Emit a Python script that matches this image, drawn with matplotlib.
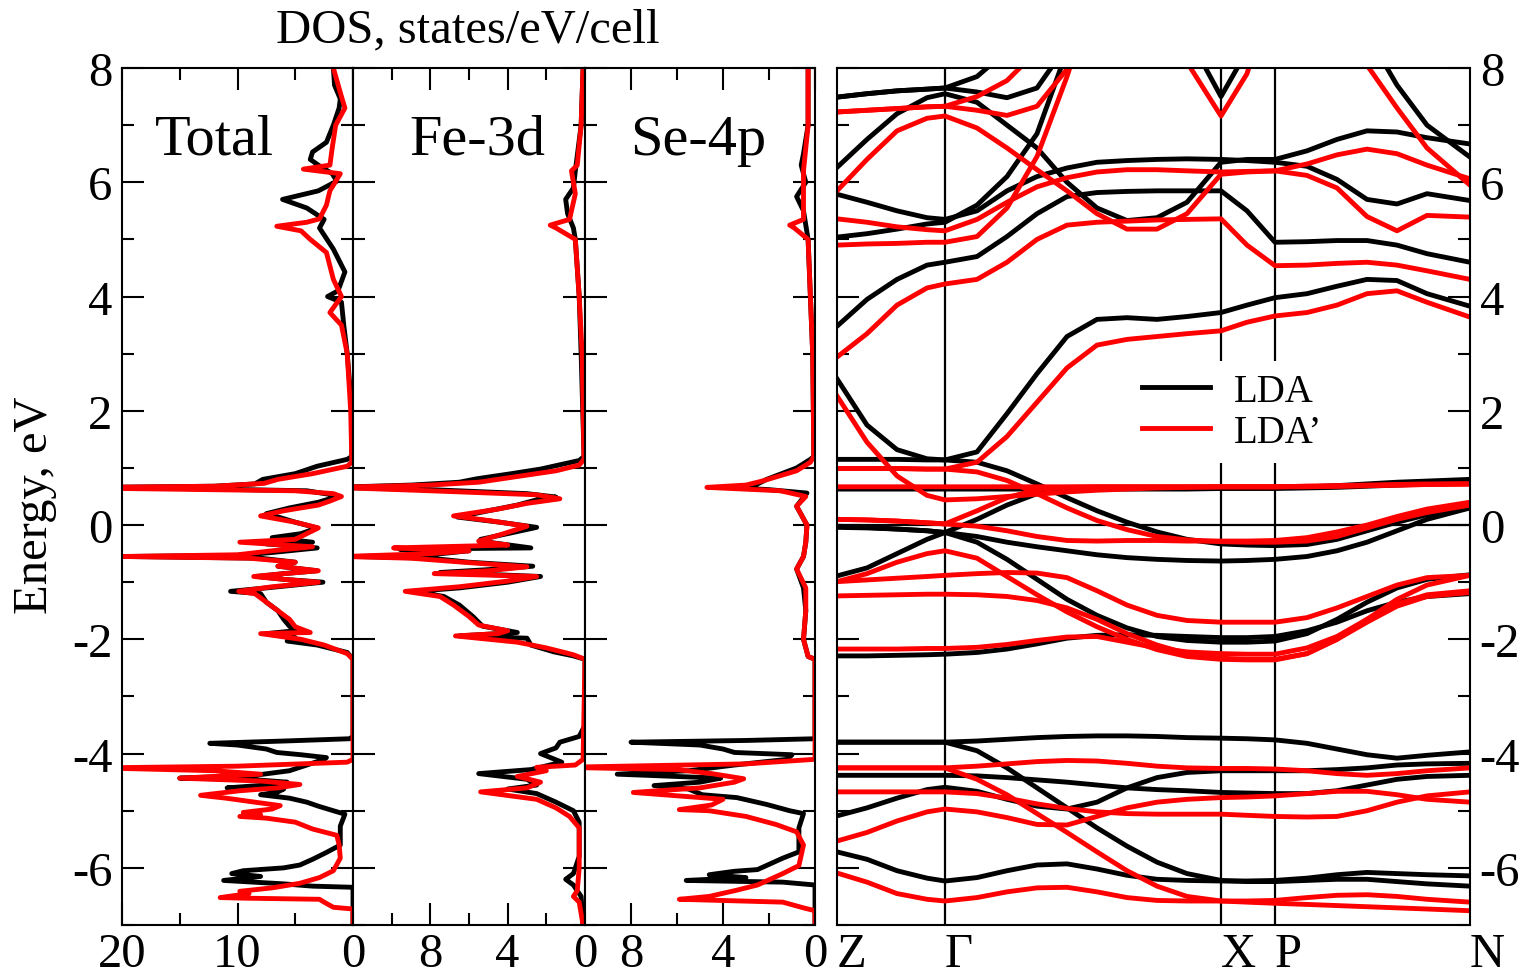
import matplotlib
matplotlib.use("Agg")
import matplotlib.pyplot as plt
from matplotlib.ticker import MultipleLocator

plt.rcParams['font.family'] = ['Liberation Serif', 'DejaVu Serif']
plt.rcParams['axes.unicode_minus'] = False

# ---------------- DOS data: (energy eV, states/eV/cell) ----------------
total_lda = [(-7.0, 0), (-6.34, 0), (-6.32, 3.5), (-6.28, 6), (-6.22, 11.2), (-6.15, 8), (-6.1, 10.5),
             (-6.05, 9.5), (-6.0, 6), (-5.95, 4.6), (-5.85, 3.5), (-5.73, 2.3), (-5.6, 1.1), (-5.27, 1.1),
             (-5.06, 0.7), (-5.0, 1.7), (-4.92, 3.0), (-4.85, 4.0), (-4.78, 5.5), (-4.72, 8.0), (-4.68, 6.6),
             (-4.62, 6.0), (-4.6, 10.9), (-4.55, 7.5), (-4.5, 5.7), (-4.45, 9), (-4.43, 15.0), (-4.38, 8.5),
             (-4.3, 5.5), (-4.2, 4), (-4.1, 2.5), (-4.07, 2.3), (-4.02, 4.5), (-3.98, 6.6), (-3.92, 7.5),
             (-3.85, 10), (-3.82, 12.4), (-3.78, 6), (-3.74, 0.3), (-3.7, 0), (-2.35, 0), (-2.23, 0.5),
             (-2.1, 3.1), (-2.03, 5.7), (-1.97, 5.0), (-1.9, 7.5), (-1.85, 5.0), (-1.77, 5.5), (-1.65, 6.0),
             (-1.5, 6.5), (-1.35, 7.5), (-1.2, 8), (-1.16, 10.6), (-1.1, 7.5), (-1.0, 2.6), (-0.95, 6),
             (-0.9, 8.3), (-0.85, 6), (-0.8, 3.1), (-0.72, 6.5), (-0.65, 5), (-0.58, 8), (-0.55, 19.6),
             (-0.53, 10), (-0.48, 7), (-0.4, 3.1), (-0.33, 7.5), (-0.3, 3.5), (-0.22, 7), (-0.15, 4.5),
             (-0.05, 3.1), (0.05, 5.0), (0.13, 6.3), (0.2, 7.5), (0.3, 5.5), (0.4, 3.0), (0.46, 2.0),
             (0.52, 1.5), (0.6, 4.0), (0.64, 15), (0.66, 22), (0.68, 12), (0.72, 8.5), (0.8, 7.8), (0.9, 5.0),
             (1.03, 3.1), (1.15, 0.5), (1.2, 0.1), (2.0, 0.1), (3.0, 0.5), (3.5, 0.8), (3.9, 1.0), (4.0, 2.2),
             (4.1, 1.3), (4.43, 0.7), (4.83, 1.7), (5.2, 2.9), (5.35, 2.5), (5.55, 4), (5.7, 6.1), (5.85, 3),
             (6.02, 1.4), (6.15, 1.8), (6.3, 3.0), (6.4, 3.7), (6.53, 3.5), (6.7, 2.3), (7.0, 1.7), (7.3, 1.2),
             (7.46, 1.1), (7.7, 1.6), (8.0, 1.7)]
total_ldap = [(-7.0, 0), (-6.72, 0), (-6.69, 1.7), (-6.6, 2.5), (-6.55, 2.9), (-6.53, 9.5), (-6.52, 11.5),
              (-6.45, 9.0), (-6.41, 9.8), (-6.35, 7), (-6.27, 4.6), (-6.17, 2.9), (-6.05, 1.7), (-5.83, 1.1),
              (-5.6, 1.2), (-5.43, 1.4), (-5.32, 3.5), (-5.2, 5.0), (-5.13, 7.5), (-5.1, 9.8), (-5.07, 8),
              (-5.03, 9.5), (-4.97, 7), (-4.91, 6.3), (-4.85, 8.5), (-4.78, 11), (-4.73, 13.2), (-4.65, 9.8),
              (-4.6, 6.5), (-4.54, 4.6), (-4.48, 8), (-4.43, 15.0), (-4.36, 8.0), (-4.3, 12), (-4.25, 22),
              (-4.22, 10), (-4.15, 0.5), (-4.1, 0), (-2.35, 0), (-2.25, 0.5), (-2.1, 2.5), (-2.0, 4.5),
              (-1.9, 8.0), (-1.88, 3.7), (-1.78, 5.0), (-1.65, 5.5), (-1.5, 6.5), (-1.35, 7.5), (-1.2, 8.5),
              (-1.16, 9.9), (-1.08, 7), (-1.0, 3), (-0.95, 6), (-0.9, 8.6), (-0.85, 6), (-0.8, 3), (-0.72, 6.5),
              (-0.65, 5), (-0.58, 9), (-0.55, 20), (-0.52, 10), (-0.45, 7), (-0.38, 3.5), (-0.3, 9.8),
              (-0.25, 5), (-0.15, 4), (-0.05, 3), (0.05, 5.0), (0.16, 8.0), (0.25, 6), (0.35, 3), (0.42, 2),
              (0.5, 1.0), (0.55, 1.7), (0.6, 5), (0.64, 20), (0.66, 22), (0.68, 12), (0.73, 7.7), (0.8, 6.5),
              (0.9, 3.5), (1.03, 0.5), (1.1, 0.1), (2.0, 0.2), (3.0, 0.5), (3.5, 1.0), (3.72, 2.0), (4.0, 1.0),
              (4.3, 1.7), (4.77, 2.3), (5.0, 3.7), (5.15, 4.5), (5.23, 6.6), (5.3, 4), (5.36, 2.9), (5.6, 2.3),
              (5.85, 2.0), (6.15, 1.1), (6.23, 4.3), (6.3, 2), (6.6, 1.8), (7.0, 1.5), (7.3, 0.7), (7.5, 1.0),
              (8.0, 1.7)]

fe3d_lda = [(-7.0, 0.1), (-6.5, 0.2), (-6.3, 0.6), (-6.2, 1.0), (-6.1, 0.6), (-5.8, 0.3), (-5.2, 0.3),
            (-5.0, 0.6), (-4.85, 1.5), (-4.7, 2.5), (-4.62, 4.0), (-4.55, 2.5), (-4.45, 3.0), (-4.35, 5.5),
            (-4.28, 2.8), (-4.15, 1.2), (-4.0, 2.3), (-3.9, 1.5), (-3.8, 1.3), (-3.7, 0.3), (-3.5, 0),
            (-2.35, 0), (-2.29, 0.6), (-2.22, 1.6), (-2.1, 2.8), (-1.98, 3.0), (-1.94, 6.5), (-1.88, 3.5),
            (-1.77, 5.3), (-1.6, 5.8), (-1.4, 6.5), (-1.25, 7.3), (-1.16, 8.8), (-1.1, 6.5), (-1.0, 4),
            (-0.9, 2.3), (-0.83, 7.5), (-0.78, 5), (-0.72, 2.7), (-0.65, 6), (-0.58, 8), (-0.55, 11.8),
            (-0.52, 8), (-0.45, 6), (-0.42, 9.6), (-0.4, 2.8), (-0.3, 5), (-0.25, 5.4), (-0.15, 4),
            (-0.04, 2.5), (0.05, 4.4), (0.14, 6.6), (0.25, 5), (0.35, 3.5), (0.46, 2.3), (0.49, 1.5),
            (0.55, 3), (0.62, 8), (0.66, 13), (0.7, 9), (0.75, 6.5), (0.81, 5.6), (0.9, 3.8), (0.98, 2.3),
            (1.13, 0.3), (1.2, 0.05), (3.0, 0.2), (4.0, 0.3), (5.0, 0.5), (5.2, 0.6), (5.45, 0.9), (5.7, 1.0),
            (5.9, 0.6), (6.2, 0.5), (7.0, 0.2), (8.0, 0.1)]
fe3d_ldap = [(-7.0, 0.1), (-6.6, 0.3), (-6.5, 0.6), (-6.4, 0.4), (-6.0, 0.3), (-5.3, 0.3), (-5.1, 0.8),
             (-4.95, 1.5), (-4.8, 2.5), (-4.67, 5.4), (-4.6, 3), (-4.5, 2.3), (-4.4, 3.5), (-4.3, 2),
             (-4.24, 2.5), (-4.2, 0.5), (-4.1, 0.1), (-2.35, 0), (-2.27, 0.6), (-2.15, 2.0), (-2.05, 3.5),
             (-1.94, 6.7), (-1.9, 4.5), (-1.85, 4), (-1.75, 5.5), (-1.6, 6), (-1.4, 6.8), (-1.25, 7.5),
             (-1.16, 9.3), (-1.08, 6.5), (-0.98, 4), (-0.9, 2.5), (-0.85, 7.8), (-0.8, 5), (-0.73, 3),
             (-0.65, 6.3), (-0.58, 9), (-0.55, 12.5), (-0.5, 8), (-0.45, 6), (-0.4, 9.9), (-0.35, 4),
             (-0.28, 5.5), (-0.15, 4.2), (-0.02, 3), (0.08, 5), (0.16, 6.8), (0.28, 4.5), (0.38, 3),
             (0.46, 1.3), (0.53, 2.5), (0.6, 8), (0.66, 13), (0.7, 8), (0.75, 5.5), (0.85, 3.5), (0.95, 1.5),
             (1.05, 0.3), (1.15, 0.05), (3.0, 0.15), (4.0, 0.3), (5.0, 0.5), (5.2, 1.5), (5.25, 1.8),
             (5.35, 0.8), (5.8, 0.5), (6.2, 0.7), (6.3, 0.4), (7.0, 0.2), (8.0, 0.1)]

se4p_lda = [(-7.0, 0), (-6.3, 0), (-6.25, 1.4), (-6.22, 5.6), (-6.17, 3), (-6.12, 4.6), (-6.06, 3.5),
            (-6.03, 2.5), (-5.83, 1.4), (-5.72, 0.7), (-5.3, 0.7), (-5.05, 0.5), (-5.0, 1.1), (-4.89, 2.1),
            (-4.77, 3.4), (-4.72, 4.9), (-4.62, 5.5), (-4.56, 7.0), (-4.5, 5.0), (-4.43, 4.1), (-4.36, 8.6),
            (-4.3, 5.5), (-4.2, 3.5), (-4.1, 1.2), (-4.02, 1.0), (-3.98, 3.5), (-3.92, 4), (-3.85, 5),
            (-3.8, 8.0), (-3.77, 3), (-3.74, 0), (-2.35, 0), (-2.3, 0.3), (-2.0, 0.5), (-1.5, 0.4),
            (-1.1, 0.5), (-0.77, 0.8), (-0.55, 0.5), (-0.3, 0.4), (0.0, 0.35), (0.33, 0.8), (0.56, 0.35),
            (0.62, 2), (0.66, 3.8), (0.7, 2.6), (0.8, 2.1), (1.0, 0.8), (1.15, 0.2), (1.2, 0.05), (3.0, 0.1),
            (5.0, 0.3), (5.5, 0.5), (5.75, 0.8), (6.0, 0.4), (6.3, 0.6), (6.5, 0.5), (7.0, 0.3), (8.0, 0.3)]
se4p_ldap = [(-7.0, 0), (-6.75, 0), (-6.7, 0.5), (-6.6, 1.4), (-6.55, 5.9), (-6.5, 4.6), (-6.4, 3.5),
             (-6.3, 2.5), (-6.1, 1.4), (-5.96, 0.7), (-5.6, 0.5), (-5.37, 0.8), (-5.24, 1.7), (-5.1, 3.0),
             (-5.0, 4.6), (-4.98, 5.9), (-4.9, 4.5), (-4.8, 4.0), (-4.68, 7.9), (-4.6, 5), (-4.5, 3.5),
             (-4.44, 3.1), (-4.35, 4.5), (-4.28, 6), (-4.24, 11), (-4.18, 3), (-4.1, 0), (-2.35, 0),
             (-2.3, 0.3), (-2.0, 0.5), (-1.5, 0.4), (-1.1, 0.4), (-0.77, 0.8), (-0.55, 0.5), (-0.3, 0.4),
             (0.0, 0.35), (0.33, 0.8), (0.5, 0.4), (0.6, 1.5), (0.66, 4.7), (0.7, 3), (0.77, 2.3), (0.95, 0.8),
             (1.1, 0.2), (1.2, 0.05), (3.0, 0.1), (5.0, 0.3), (5.2, 0.9), (5.25, 1.1), (5.35, 0.5), (6.2, 0.5),
             (7.0, 0.3), (8.0, 0.3)]

# ---------------- band structure ----------------
kpath = [0, 30, 60, 90, 108, 140, 170, 200, 230, 260, 290, 320, 350, 384, 410, 438, 470, 500, 530, 560, 590, 633]
kpoints = [0, 108, 384, 438, 633]
klabels = ['Z', 'Γ', 'X', 'P', 'N']

lda_low = [
    [-5.72, -5.85, -6.05, -6.18, -6.23, -6.17, -6.05, -5.95, -5.93, -6.02, -6.13, -6.20, -6.22, -6.23, -6.23, -6.22, -6.18, -6.12, -6.08, -6.10, -6.12, -6.14],
    [-3.80, -3.80, -3.80, -3.80, -3.80, -3.95, -4.25, -4.60, -4.95, -5.30, -5.62, -5.90, -6.10, -6.22, -6.24, -6.24, -6.22, -6.20, -6.20, -6.24, -6.28, -6.32],
    [-5.09, -4.95, -4.78, -4.63, -4.59, -4.66, -4.80, -4.92, -4.97, -4.85, -4.60, -4.42, -4.33, -4.30, -4.30, -4.30, -4.30, -4.28, -4.25, -4.20, -4.18, -4.17],
    [-4.38, -4.38, -4.38, -4.38, -4.38, -4.39, -4.42, -4.46, -4.50, -4.55, -4.60, -4.63, -4.65, -4.68, -4.69, -4.70, -4.70, -4.65, -4.55, -4.45, -4.40, -4.38],
    [-3.80, -3.80, -3.80, -3.80, -3.80, -3.78, -3.75, -3.72, -3.70, -3.69, -3.69, -3.70, -3.72, -3.73, -3.74, -3.76, -3.82, -3.92, -4.02, -4.08, -4.03, -3.97],
]
lda_mid = [
    [-2.29, -2.29, -2.28, -2.27, -2.26, -2.23, -2.17, -2.08, -1.98, -1.93, -1.92, -1.93, -1.95, -1.97, -1.97, -1.95, -1.85, -1.70, -1.50, -1.35, -1.25, -1.20],
    [-0.89, -0.75, -0.50, -0.25, -0.13, -0.30, -0.60, -0.95, -1.30, -1.58, -1.80, -1.95, -2.02, -2.05, -2.05, -2.03, -1.90, -1.65, -1.35, -1.10, -0.95, -0.87],
    [-0.04, -0.05, -0.07, -0.10, -0.13, -0.20, -0.30, -0.38, -0.45, -0.52, -0.57, -0.60, -0.62, -0.63, -0.62, -0.60, -0.55, -0.45, -0.30, -0.10, 0.10, 0.30],
    [-0.02, -0.04, -0.07, -0.10, -0.13, 0.10, 0.35, 0.55, 0.63, 0.65, 0.65, 0.65, 0.65, 0.65, 0.65, 0.66, 0.67, 0.69, 0.72, 0.75, 0.77, 0.80],
    [0.63, 0.63, 0.63, 0.63, 0.63, 0.63, 0.63, 0.63, 0.63, 0.63, 0.63, 0.63, 0.63, 0.64, 0.64, 0.64, 0.65, 0.66, 0.68, 0.70, 0.72, 0.74],
    [1.15, 1.15, 1.15, 1.14, 1.14, 1.10, 0.95, 0.72, 0.48, 0.25, 0.05, -0.12, -0.25, -0.33, -0.35, -0.36, -0.34, -0.25, -0.10, 0.05, 0.18, 0.30],
]
lda_high = [
    [2.56, 1.75, 1.32, 1.16, 1.14, 1.28, 1.95, 2.65, 3.30, 3.60, 3.63, 3.60, 3.65, 3.72, 3.85, 3.98, 4.05, 4.18, 4.30, 4.28, 4.05, 3.83],
    [3.48, 3.95, 4.30, 4.55, 4.60, 4.70, 5.05, 5.45, 5.75, 5.82, 5.84, 5.85, 5.85, 5.85, 5.50, 4.95, 4.96, 4.98, 4.98, 4.90, 4.75, 4.60],
    [5.04, 5.10, 5.18, 5.27, 5.30, 5.60, 6.10, 6.85, 8.30, 9.5, 9.5, 9.5, 9.5, 9.5, 9.5, 9.5, 9.5, 9.5, 9.5, 9.5, 9.5, 9.5],
    [5.79, 5.65, 5.50, 5.38, 5.35, 5.50, 5.85, 6.10, 6.25, 6.35, 6.38, 6.40, 6.41, 6.40, 6.38, 6.35, 6.28, 6.05, 5.70, 5.62, 5.80, 5.68],
    [6.26, 6.75, 7.20, 7.48, 7.55, 7.40, 7.00, 6.60, 6.00, 5.55, 5.33, 5.38, 5.65, 6.35, 6.40, 6.40, 6.55, 6.75, 6.90, 6.88, 6.78, 6.67],
    [7.49, 7.55, 7.60, 7.63, 7.65, 7.85, 8.30, 9.5, 9.5, 9.5, 9.5, 9.5, 9.5, 9.5, 9.5, 9.5, 9.5, 9.5, 9.5, 9.5, 9.5, 9.5],
    [7.49, 7.55, 7.60, 7.63, 7.65, 7.58, 7.48, 7.65, 8.40, 9.5, 9.5, 9.5, 9.5, 9.5, 9.5, 9.5, 9.5, 9.5, 9.5, 9.5, 9.5, 9.5],
    [9.5, 9.5, 9.5, 9.5, 9.5, 9.5, 9.5, 9.5, 9.5, 9.5, 9.5, 9.5, 8.6, 7.50, 8.3, 9.5, 9.5, 9.5, 9.5, 9.5, 9.5, 9.5],
    [9.5, 9.5, 9.5, 9.5, 9.5, 9.5, 9.5, 9.5, 9.5, 9.5, 9.5, 9.5, 9.5, 9.5, 9.5, 9.5, 9.5, 9.5, 8.6, 7.7, 7.0, 6.44],
]

ldap_low = [
    [-6.09, -6.25, -6.45, -6.55, -6.58, -6.52, -6.42, -6.35, -6.34, -6.42, -6.52, -6.57, -6.58, -6.58, -6.58, -6.57, -6.52, -6.48, -6.47, -6.50, -6.55, -6.60],
    [-4.25, -4.25, -4.25, -4.25, -4.25, -4.45, -4.72, -5.05, -5.38, -5.72, -6.05, -6.32, -6.50, -6.58, -6.60, -6.62, -6.64, -6.66, -6.68, -6.70, -6.72, -6.75],
    [-4.25, -4.25, -4.25, -4.25, -4.25, -4.22, -4.18, -4.14, -4.12, -4.13, -4.17, -4.22, -4.25, -4.26, -4.26, -4.27, -4.30, -4.35, -4.38, -4.35, -4.30, -4.25],
    [-4.67, -4.67, -4.67, -4.67, -4.67, -4.70, -4.78, -4.88, -4.96, -5.02, -5.05, -5.06, -5.06, -5.06, -5.08, -5.10, -5.11, -5.10, -5.00, -4.85, -4.74, -4.67],
    [-5.53, -5.38, -5.18, -5.02, -4.97, -5.02, -5.12, -5.24, -5.25, -5.10, -4.95, -4.85, -4.80, -4.77, -4.76, -4.74, -4.70, -4.66, -4.66, -4.72, -4.80, -4.85],
]
ldap_mid = [
    [-2.17, -2.17, -2.17, -2.16, -2.16, -2.14, -2.09, -2.02, -1.96, -1.95, -2.05, -2.15, -2.22, -2.25, -2.26, -2.26, -2.15, -1.95, -1.65, -1.38, -1.22, -1.15],
    [-0.99, -0.85, -0.65, -0.50, -0.45, -0.58, -0.90, -1.22, -1.52, -1.78, -2.00, -2.18, -2.30, -2.35, -2.36, -2.36, -2.25, -2.00, -1.65, -1.30, -1.05, -0.88],
    [-0.99, -0.96, -0.93, -0.90, -0.88, -0.85, -0.83, -0.84, -0.92, -1.15, -1.40, -1.58, -1.67, -1.70, -1.70, -1.70, -1.62, -1.45, -1.25, -1.05, -0.92, -0.88],
    [-1.24, -1.23, -1.22, -1.21, -1.21, -1.22, -1.25, -1.32, -1.45, -1.65, -1.90, -2.10, -2.25, -2.33, -2.35, -2.35, -2.25, -2.00, -1.70, -1.42, -1.25, -1.18],
    [0.10, 0.09, 0.07, 0.04, 0.02, -0.02, -0.10, -0.20, -0.27, -0.28, -0.27, -0.27, -0.28, -0.28, -0.28, -0.27, -0.22, -0.12, 0.00, 0.15, 0.28, 0.40],
    [0.10, 0.09, 0.07, 0.04, 0.02, 0.25, 0.48, 0.62, 0.66, 0.67, 0.67, 0.67, 0.67, 0.67, 0.67, 0.67, 0.68, 0.68, 0.69, 0.70, 0.71, 0.72],
    [0.67, 0.67, 0.67, 0.67, 0.67, 0.67, 0.67, 0.67, 0.67, 0.67, 0.67, 0.67, 0.67, 0.67, 0.67, 0.67, 0.67, 0.68, 0.69, 0.70, 0.71, 0.72],
    [0.99, 0.99, 0.99, 0.98, 0.98, 0.93, 0.78, 0.55, 0.30, 0.08, -0.08, -0.20, -0.26, -0.29, -0.30, -0.30, -0.28, -0.20, -0.05, 0.10, 0.22, 0.35],
    [2.26, 1.45, 0.86, 0.52, 0.44, 0.46, 0.50, 0.54, 0.58, 0.61, 0.63, 0.65, 0.66, 0.67, 0.67, 0.67, 0.68, 0.69, 0.70, 0.71, 0.72, 0.72],
]
ldap_high = [
    [0.99, 0.99, 0.99, 0.98, 0.98, 1.10, 1.55, 2.15, 2.75, 3.15, 3.25, 3.30, 3.35, 3.40, 3.55, 3.66, 3.72, 3.85, 4.05, 4.10, 3.90, 3.64],
    [2.94, 3.35, 3.85, 4.15, 4.22, 4.30, 4.60, 5.00, 5.25, 5.30, 5.32, 5.34, 5.35, 5.36, 4.90, 4.54, 4.55, 4.58, 4.60, 4.55, 4.45, 4.30],
    [4.90, 4.92, 4.93, 4.95, 4.95, 5.05, 5.55, 6.45, 7.85, 9.5, 9.5, 9.5, 9.5, 9.5, 9.5, 9.5, 9.5, 9.5, 9.5, 9.5, 9.5, 9.5],
    [5.36, 5.30, 5.22, 5.17, 5.15, 5.35, 5.65, 5.92, 6.08, 6.18, 6.22, 6.22, 6.20, 6.18, 6.19, 6.20, 6.12, 5.90, 5.40, 5.15, 5.42, 5.39],
    [5.85, 6.40, 6.90, 7.12, 7.16, 6.95, 6.60, 6.22, 5.85, 5.45, 5.18, 5.18, 5.45, 6.14, 6.18, 6.20, 6.32, 6.48, 6.58, 6.50, 6.30, 6.06],
    [7.23, 7.26, 7.29, 7.32, 7.33, 7.50, 7.78, 8.30, 9.5, 9.5, 9.5, 9.5, 9.5, 9.5, 9.5, 9.5, 9.5, 9.5, 9.5, 9.5, 9.5, 9.5],
    [7.23, 7.26, 7.29, 7.32, 7.33, 7.26, 7.17, 7.33, 7.98, 9.5, 9.5, 9.5, 9.5, 9.5, 9.5, 9.5, 9.5, 9.5, 9.5, 9.5, 9.5, 9.5],
    [9.5, 9.5, 9.5, 9.5, 9.5, 9.5, 9.5, 9.5, 9.5, 9.5, 9.5, 9.5, 8.1, 7.16, 7.9, 9.5, 9.5, 9.5, 9.5, 9.5, 9.5, 9.5],
    [9.5, 9.5, 9.5, 9.5, 9.5, 9.5, 9.5, 9.5, 9.5, 9.5, 9.5, 9.5, 9.5, 9.5, 9.5, 9.5, 9.5, 9.5, 8.05, 7.3, 6.6, 5.95],
]

# ---------------- figure ----------------
W, H = 1526, 978
fig = plt.figure(figsize=(W / 100, H / 100), dpi=100)
fig.patch.set_facecolor('white')

y0, y1 = 926, 69  # axes bottom/top in pixels


def px_axes(left, right):
    return fig.add_axes([left / W, 1 - y0 / H, (right - left) / W, (y0 - y1) / H])


FS = 35
LW = 3.5
BLACK, RED = 'black', '#ff0000'

dos_panels = [
    (122, 353, 20, 10, 5, total_lda, total_ldap, 'Total', 0.40),
    (353, 585, 12, 4, 2, fe3d_lda, fe3d_ldap, 'Fe-3d', 0.535),
    (585, 815, 10, 4, 2, se4p_lda, se4p_ldap, 'Se-4p', 0.49),
]

for i, (l, r, xmax, major, minor, lda, ldap, name, tx) in enumerate(dos_panels):
    ax = px_axes(l, r)
    ax.plot([d for e, d in lda], [e for e, d in lda], color=BLACK, lw=LW)
    ax.plot([d for e, d in ldap], [e for e, d in ldap], color=RED, lw=LW)
    ax.set_xlim(xmax, 0)
    ax.set_ylim(-7, 8)
    ax.set_xticks([t for t in range(0, xmax + 1, major) if t < xmax or i == 0])
    ax.xaxis.set_minor_locator(MultipleLocator(minor))
    ax.yaxis.set_major_locator(MultipleLocator(2))
    ax.yaxis.set_minor_locator(MultipleLocator(1))
    ax.tick_params(which='both', direction='in', top=True, right=True, width=1.5,
                   labelsize=FS, pad=7)
    ax.tick_params(axis='x', pad=5)
    ax.tick_params(which='major', length=16)
    ax.tick_params(which='minor', length=8.5)
    if i > 0:
        ax.tick_params(labelleft=False)
    for s in ax.spines.values():
        s.set_linewidth(1.5)
    ax.text(tx, 0.9, name, transform=ax.transAxes, ha='center', va='baseline', fontsize=42)

# band structure panel
axb = px_axes(837, 1470)
for band in lda_low + lda_mid + lda_high:
    axb.plot(kpath, band, color=BLACK, lw=LW, solid_joinstyle='round')
for band in ldap_low + ldap_mid + ldap_high:
    axb.plot(kpath, band, color=RED, lw=LW, solid_joinstyle='round')
for k in kpoints[1:-1]:
    axb.axvline(k, color='black', lw=1.6, zorder=1)
axb.axhline(0, color='black', lw=1.6, zorder=1)
axb.set_xlim(kpoints[0], kpoints[-1])
axb.set_ylim(-7, 8)
axb.set_xticks(kpoints)
axb.set_xticklabels(klabels, ha='left')
axb.yaxis.set_major_locator(MultipleLocator(2))
axb.yaxis.set_minor_locator(MultipleLocator(1))
axb.tick_params(axis='x', length=0, labelsize=FS, pad=5)
axb.tick_params(axis='y', which='both', direction='in', left=True, right=True,
                labelleft=False, labelright=True, width=1.5, labelsize=FS, pad=7)
axb.tick_params(axis='y', which='major', length=16)
axb.tick_params(axis='y', which='minor', length=8.5)
for s in axb.spines.values():
    s.set_linewidth(1.5)

h1, = axb.plot([], [], color=BLACK, lw=LW, label='LDA')
h2, = axb.plot([], [], color=RED, lw=LW, label='LDA’')
leg = axb.legend(handles=[h1, h2], loc='center', bbox_to_anchor=(1232 / W, 1 - 413 / H),
                 bbox_transform=fig.transFigure, frameon=True, fancybox=False,
                 edgecolor='none', facecolor='white', framealpha=1, fontsize=28,
                 handlelength=1.75, handletextpad=0.6, labelspacing=0.1, borderpad=0.3)

fig.text(468 / W, 1 - 30 / H, 'DOS, states/eV/cell', ha='center', va='center', fontsize=FS)
fig.text(35 / W, 1 - 505 / H, 'Energy, eV', ha='center', va='center', rotation=90, fontsize=FS)

fig.savefig('out.png', dpi=100)
